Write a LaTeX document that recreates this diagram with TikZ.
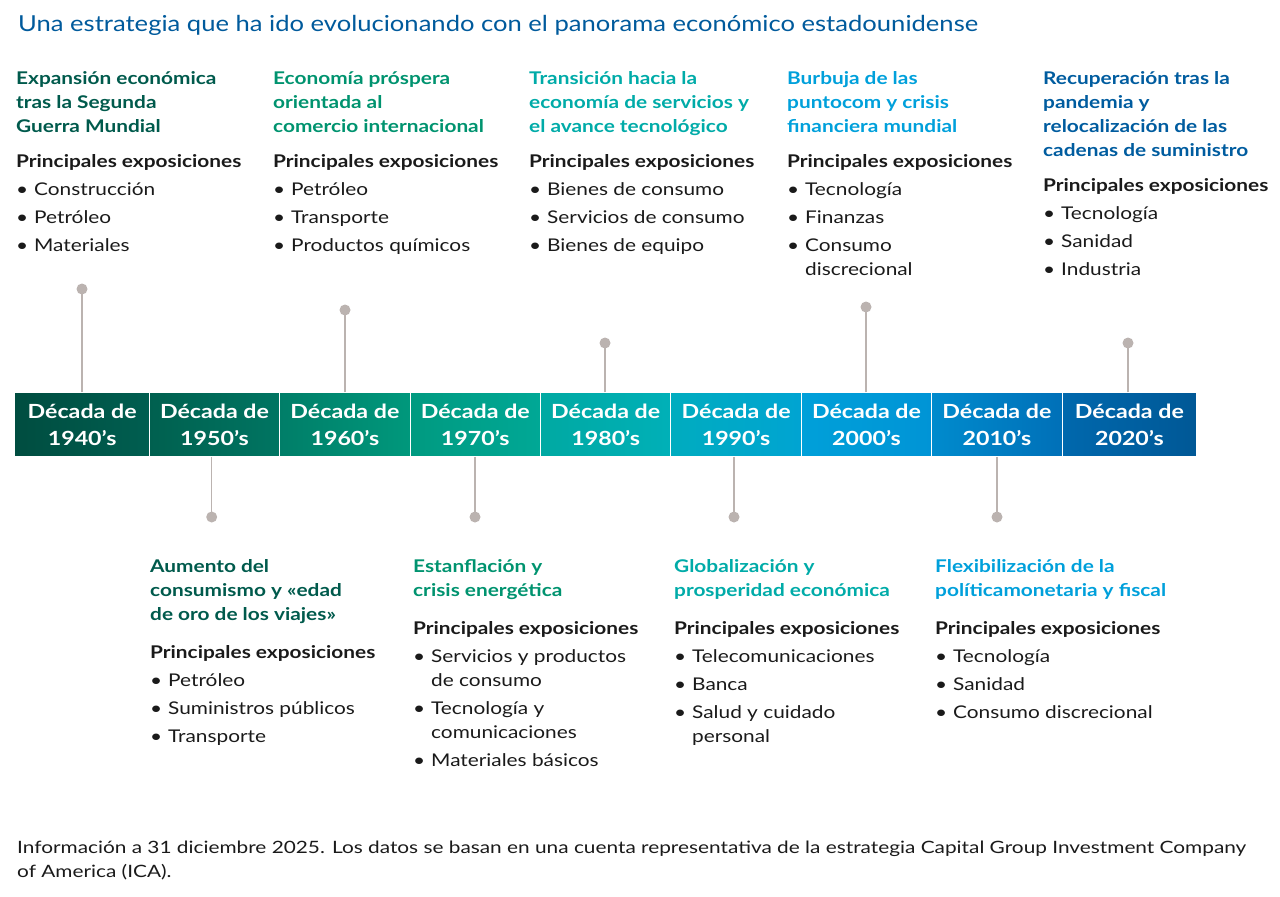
\documentclass[tikz,border=0pt]{standalone}
\usepackage{fontspec}
\setmainfont{Lato}[FakeStretch=1.19]
\usepackage{graphicx}
\definecolor{ctitle}{HTML}{005A9C}
\definecolor{cA}{HTML}{005A4C}
\definecolor{cB}{HTML}{00936F}
\definecolor{cC}{HTML}{00ABA8}
\definecolor{cD}{HTML}{00A0DB}
\definecolor{cE}{HTML}{005C9F}
\definecolor{stem}{HTML}{BBB3B0}
\definecolor{txt}{HTML}{1A1A1A}
\definecolor{g1L}{HTML}{004D40}\definecolor{g1R}{HTML}{005E50}
\definecolor{g2L}{HTML}{00604F}\definecolor{g2R}{HTML}{007562}
\definecolor{g3L}{HTML}{007E68}\definecolor{g3R}{HTML}{00987C}
\definecolor{g4L}{HTML}{009A80}\definecolor{g4R}{HTML}{00A896}
\definecolor{g5L}{HTML}{00A9A2}\definecolor{g5R}{HTML}{00B0B8}
\definecolor{g6L}{HTML}{00ACBF}\definecolor{g6R}{HTML}{00A4D2}
\definecolor{g7L}{HTML}{00A0D9}\definecolor{g7R}{HTML}{0094D6}
\definecolor{g8L}{HTML}{008BCD}\definecolor{g8R}{HTML}{0070B8}
\definecolor{g9L}{HTML}{0068AD}\definecolor{g9R}{HTML}{005896}
\newlength{\tw}
\newlength{\fw}
\newcommand{\titletext}{Una estrategia que ha ido evolucionando con el panorama económico estadounidense}
\newcommand{\footA}{Información a 31 diciembre 2025. Los datos se basan en una cuenta representativa de la estrategia Capital Group Investment Company}
\newcommand{\footB}{of America (ICA).}
\newcommand{\bul}[4]{\node[lst] (#1) at (#2,#3) {\makebox[18pt][l]{\textbullet}#4};}
\newcommand{\cont}[4]{\node[lst] (#1) at ({#2+18},#3) {#4};}
\begin{document}
\settowidth{\tw}{\fontsize{22}{26}\selectfont\titletext}%
\pgfmathsetmacro{\tsc}{960/\tw}%
\settowidth{\fw}{\fontsize{17}{24}\selectfont\footA}%
\pgfmathsetmacro{\fsc}{1229/\fw}%
\begin{tikzpicture}[x=1pt,y=-1pt,
  hd/.style={anchor=base west, inner sep=0pt, font=\fontsize{17.5}{24}\selectfont\bfseries},
  sub/.style={anchor=base west, inner sep=0pt, font=\fontsize{17.5}{24}\selectfont\bfseries, text=txt},
  lst/.style={anchor=base west, inner sep=0pt, font=\fontsize{17.5}{24}\selectfont, text=txt},
  cell/.style={minimum width=130.4pt, minimum height=63.3pt, inner sep=0pt, draw=white, line width=1pt,
    align=center, text=white, font=\fontsize{19.5}{27}\selectfont\bfseries},
  wide/.style={minimum width=134.4pt},
  stemline/.style={draw=stem, line width=1.3pt},
  dotst/.style={fill=stem, draw=none}
]
\useasboundingbox (0,0) rectangle (1280,897);

% title
\node[anchor=base west, inner sep=0pt, text=ctitle] (title) at (18,31)
  {\scalebox{\tsc}[1]{\fontsize{22}{26}\selectfont\titletext}};

% timeline cells
\node[cell, wide, left color=g1L, right color=g1R] (c1) at (82.15,424.6) {Década de\\1940’s};
\node[cell, left color=g2L, right color=g2R] (c2) at (214.5,424.6) {Década de\\1950’s};
\node[cell, left color=g3L, right color=g3R] (c3) at (344.9,424.6) {Década de\\1960’s};
\node[cell, left color=g4L, right color=g4R] (c4) at (475.3,424.6) {Década de\\1970’s};
\node[cell, left color=g5L, right color=g5R] (c5) at (605.7,424.6) {Década de\\1980’s};
\node[cell, left color=g6L, right color=g6R] (c6) at (736.1,424.6) {Década de\\1990’s};
\node[cell, left color=g7L, right color=g7R] (c7) at (866.5,424.6) {Década de\\2000’s};
\node[cell, left color=g8L, right color=g8R] (c8) at (996.9,424.6) {Década de\\2010’s};
\node[cell, wide, left color=g9L, right color=g9R] (c9) at (1129.4,424.6) {Década de\\2020’s};

% stems and dots
\coordinate (d1) at (82,289);
\coordinate (d2) at (211.7,517);
\coordinate (d3) at (345,310);
\coordinate (d4) at (475,517);
\coordinate (d5) at (605,343);
\coordinate (d6) at (734,517);
\coordinate (d7) at (866,307);
\coordinate (d8) at (997,517);
\coordinate (d9) at (1128,343);
\foreach \k in {1,3,5,7,9} {
  \draw[stemline] (d\k |- c\k.north) -- (d\k);
  \fill[dotst] (d\k) circle (5.5);
}
\foreach \k in {2,4,6,8} {
  \draw[stemline] (d\k |- c\k.south) -- (d\k);
  \fill[dotst] (d\k) circle (5.5);
}

% column 1940s
\node[hd, text=cA] (h1a) at (16,84) {Expansión económica};
\node[hd, text=cA] (h1b) at (16,108.3) {tras la Segunda};
\node[hd, text=cA] (h1c) at (16,132.6) {Guerra Mundial};
\node[sub] (s1) at (16,167) {Principales exposiciones};
\bul{b1a}{16}{195}{Construcción}
\bul{b1b}{16}{223}{Petróleo}
\bul{b1c}{16}{251}{Materiales}

% column 1960s
\node[hd, text=cB] (h3a) at (273,84) {Economía próspera};
\node[hd, text=cB] (h3b) at (273,108.3) {orientada al};
\node[hd, text=cB] (h3c) at (273,132.6) {comercio internacional};
\node[sub] (s3) at (273,167) {Principales exposiciones};
\bul{b3a}{273}{195}{Petróleo}
\bul{b3b}{273}{223}{Transporte}
\bul{b3c}{273}{251}{Productos químicos}

% column 1980s
\node[hd, text=cC] (h5a) at (529,84) {Transición hacia la};
\node[hd, text=cC] (h5b) at (529,108.3) {economía de servicios y};
\node[hd, text=cC] (h5c) at (529,132.6) {el avance tecnológico};
\node[sub] (s5) at (529,167) {Principales exposiciones};
\bul{b5a}{529}{195}{Bienes de consumo}
\bul{b5b}{529}{223}{Servicios de consumo}
\bul{b5c}{529}{251}{Bienes de equipo}

% column 2000s
\node[hd, text=cD] (h7a) at (787,84) {Burbuja de las};
\node[hd, text=cD] (h7b) at (787,108.3) {puntocom y crisis};
\node[hd, text=cD] (h7c) at (787,132.6) {financiera mundial};
\node[sub] (s7) at (787,167) {Principales exposiciones};
\bul{b7a}{787}{195}{Tecnología}
\bul{b7b}{787}{223}{Finanzas}
\bul{b7c}{787}{251}{Consumo}
\cont{b7d}{787}{275}{discrecional}

% column 2020s
\node[hd, text=cE] (h9a) at (1043,84) {Recuperación tras la};
\node[hd, text=cE] (h9b) at (1043,108.3) {pandemia y};
\node[hd, text=cE] (h9c) at (1043,132.6) {relocalización de las};
\node[hd, text=cE] (h9d) at (1043,156.9) {cadenas de suministro};
\node[sub] (s9) at (1043,191) {Principales exposiciones};
\bul{b9a}{1043}{219}{Tecnología}
\bul{b9b}{1043}{247}{Sanidad}
\bul{b9c}{1043}{275}{Industria}

% column 1950s
\node[hd, text=cA] (h2a) at (150,572) {Aumento del};
\node[hd, text=cA] (h2b) at (150,596.3) {consumismo y «edad};
\node[hd, text=cA] (h2c) at (150,620.6) {de oro de los viajes»};
\node[sub] (s2) at (150,658) {Principales exposiciones};
\bul{b2a}{150}{686}{Petróleo}
\bul{b2b}{150}{714}{Suministros públicos}
\bul{b2c}{150}{742}{Transporte}

% column 1970s
\node[hd, text=cB] (h4a) at (413,572) {Estanflación y};
\node[hd, text=cB] (h4b) at (413,596.3) {crisis energética};
\node[sub] (s4) at (413,634) {Principales exposiciones};
\bul{b4a}{413}{662}{Servicios y productos}
\cont{b4b}{413}{686}{de consumo}
\bul{b4c}{413}{714}{Tecnología y}
\cont{b4d}{413}{738}{comunicaciones}
\bul{b4e}{413}{766}{Materiales básicos}

% column 1990s
\node[hd, text=cC] (h6a) at (674,572) {Globalización y};
\node[hd, text=cC] (h6b) at (674,596.3) {prosperidad económica};
\node[sub] (s6) at (674,634) {Principales exposiciones};
\bul{b6a}{674}{662}{Telecomunicaciones}
\bul{b6b}{674}{690}{Banca}
\bul{b6c}{674}{718}{Salud y cuidado}
\cont{b6d}{674}{742}{personal}

% column 2010s
\node[hd, text=cD] (h8a) at (935,572) {Flexibilización de la};
\node[hd, text=cD] (h8b) at (935,596.3) {políticamonetaria y fiscal};
\node[sub] (s8) at (935,634) {Principales exposiciones};
\bul{b8a}{935}{662}{Tecnología}
\bul{b8b}{935}{690}{Sanidad}
\bul{b8c}{935}{718}{Consumo discrecional}

% footnote
\node[anchor=base west, inner sep=0pt, text=txt] (f1) at (17,853)
  {\scalebox{\fsc}[1]{\fontsize{17}{24}\selectfont\footA}};
\node[anchor=base west, inner sep=0pt, text=txt] (f2) at (17,877)
  {\scalebox{\fsc}[1]{\fontsize{17}{24}\selectfont\footB}};
\end{tikzpicture}
\end{document}
